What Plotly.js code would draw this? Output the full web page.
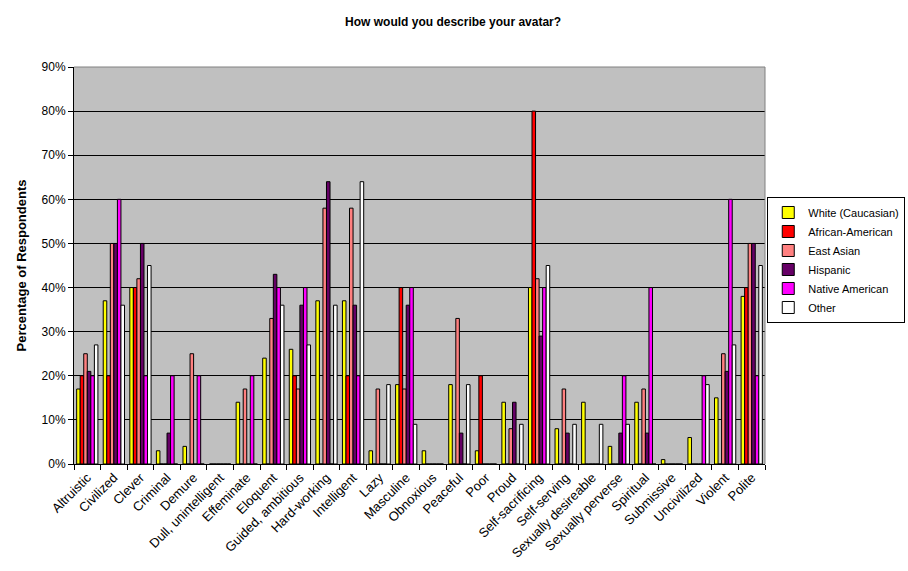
<!DOCTYPE html>
<html>
<head>
<meta charset="utf-8">
<script src="https://cdn.plot.ly/plotly-3.0.1.min.js"></script>
<style>
  html, body { margin: 0; padding: 0; background: #fff; }
  #chart { width: 908px; height: 571px; }
</style>
</head>
<body>
<div id="chart"></div>
<script>
// traits asked about in the survey
const categories = [
  'Altruistic', 'Civilized', 'Clever', 'Criminal', 'Demure', 'Dull, unintelligent',
  'Effeminate', 'Eloquent', 'Guided, ambitious', 'Hard-working', 'Intelligent', 'Lazy',
  'Masculine', 'Obnoxious', 'Peaceful', 'Poor', 'Proud', 'Self-sacrificing',
  'Self-serving', 'Sexually desireable', 'Sexually perverse', 'Spiritual', 'Submissive',
  'Uncivilized', 'Violent', 'Polite'
];

// percentages, one array per group
const white    = [17, 37, 40, 3, 4, 0, 14, 24, 26, 37, 37, 3, 18, 3, 18, 3, 14, 40, 8, 14, 4, 14, 1, 6, 15, 38];
const african  = [20, 20, 40, 0, 0, 0, 0, 0, 20, 0, 20, 0, 40, 0, 0, 20, 0, 80, 0, 0, 0, 0, 0, 0, 0, 40];
const eastAsian = [25, 50, 42, 0, 25, 0, 17, 33, 17, 58, 58, 17, 17, 0, 33, 0, 8, 42, 17, 0, 0, 17, 0, 0, 25, 50];
const hispanic = [21, 50, 50, 7, 0, 0, 0, 43, 36, 64, 36, 0, 36, 0, 7, 0, 14, 29, 7, 0, 7, 7, 0, 0, 21, 50];
const nativeAm = [20, 60, 20, 20, 20, 0, 20, 40, 40, 0, 20, 0, 40, 0, 0, 0, 0, 40, 0, 0, 20, 40, 0, 20, 60, 20];
const other    = [27, 36, 45, 0, 0, 0, 0, 36, 27, 36, 64, 18, 9, 0, 18, 0, 9, 45, 9, 9, 9, 0, 0, 18, 27, 45];

const yTicks = [0, 10, 20, 30, 40, 50, 60, 70, 80, 90];
const yTickText = yTicks.map(v => v + '%');

const groups = [
  { name: 'White (Caucasian)', y: white,     color: '#FFFF00' },
  { name: 'African-American',  y: african,   color: '#FF0000' },
  { name: 'East Asian',        y: eastAsian, color: '#FF8080' },
  { name: 'Hispanic',          y: hispanic,  color: '#660066' },
  { name: 'Native American',   y: nativeAm,  color: '#FF00FF' },
  { name: 'Other',             y: other,     color: '#FFFFFF' }
];

const font = 'Liberation Sans, Arial, sans-serif';

const traces = groups.map(g => ({
  type: 'bar',
  name: g.name,
  x: categories,
  y: g.y,
  marker: { color: g.color, line: { color: '#000', width: 1 } },
  hovertemplate: '%{x}: %{y}%<extra>' + g.name + '</extra>'
}));

const layout = {
  width: 908,
  height: 571,
  margin: { l: 74, r: 143, t: 67, b: 107 },
  paper_bgcolor: '#fff',
  plot_bgcolor: '#C0C0C0',
  barmode: 'group',
  bargap: 0.2,
  bargroupgap: 0,
  font: { family: font, size: 11, color: '#000' },
  title: {
    text: 'How would you describe your avatar?',
    font: { family: font, size: 12, weight: 'bold', color: '#000' },
    x: 0.499, xanchor: 'center', y: 0.961, yanchor: 'middle'
  },
  xaxis: {
    type: 'category',
    tickangle: -45,
    ticks: 'outside',
    tickson: 'boundaries',
    ticklen: 5,
    tickcolor: '#000',
    showline: true,
    linecolor: '#000',
    linewidth: 1,
    showgrid: false,
    tickfont: { family: font, size: 13, color: '#000' }
  },
  yaxis: {
    range: [0, 90],
    tickvals: yTicks,
    ticktext: yTickText,
    ticks: 'outside',
    ticklen: 5,
    tickcolor: '#000',
    showline: true,
    linecolor: '#000',
    linewidth: 1,
    showgrid: true,
    gridcolor: '#000',
    gridwidth: 1,
    zeroline: false,
    tickfont: { family: font, size: 12, color: '#000' },
    title: {
      text: 'Percentage of Respondents',
      font: { family: font, size: 13, weight: 'bold', color: '#000' },
      standoff: 12
    }
  },
  legend: {
    xref: 'container', yref: 'container',
    x: 0.845, xanchor: 'left',
    y: 0.655, yanchor: 'top',
    bgcolor: '#fff',
    bordercolor: '#000',
    borderwidth: 1,
    font: { family: font, size: 11, color: '#000' },
    tracegroupgap: 0,
    itemwidth: 30
  },
  shapes: [
    // gray frame on the top and right of the plot area
    { type: 'line', xref: 'paper', yref: 'paper', x0: 0, x1: 1, y0: 1, y1: 1, line: { color: '#808080', width: 1 } },
    { type: 'line', xref: 'paper', yref: 'paper', x0: 1, x1: 1, y0: 0, y1: 1, line: { color: '#808080', width: 1 } }
  ]
};

Plotly.newPlot('chart', traces, layout, { displayModeBar: false, staticPlot: true });
</script>
</body>
</html>
